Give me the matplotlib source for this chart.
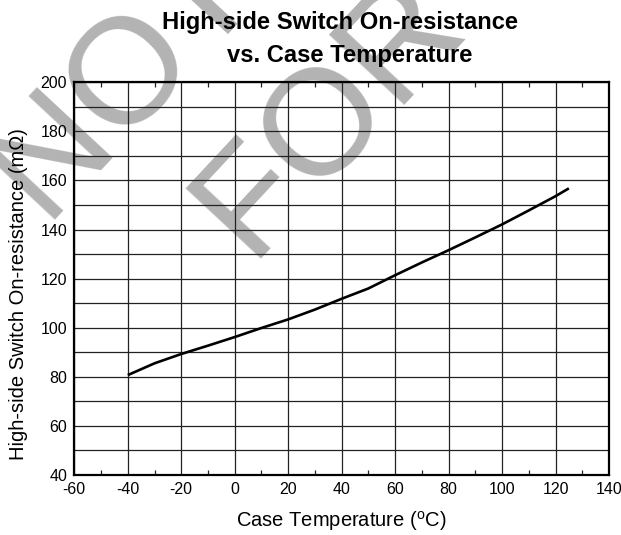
import matplotlib
matplotlib.use("Agg")
import matplotlib.pyplot as plt
from matplotlib.ticker import MultipleLocator

plt.rcParams['font.family'] = ['Liberation Sans', 'DejaVu Sans']
plt.rcParams['mathtext.fontset'] = 'custom'
plt.rcParams['mathtext.rm'] = 'Liberation Sans'
plt.rcParams['axes.unicode_minus'] = False

# Data
temperature_c = [-40, -30, -20, -10, 0, 10, 20, 30, 40, 50, 60, 70, 80, 90, 100, 110, 120, 125]
on_resistance_mohm = [80.7, 85.5, 89.3, 92.7, 96.2, 99.9, 103.4, 107.4, 111.8, 116.0, 121.4, 126.6, 131.6, 136.8, 142.1, 147.8, 153.6, 156.8]

x_ticks = [-60, -40, -20, 0, 20, 40, 60, 80, 100, 120, 140]
y_ticks = [40, 60, 80, 100, 120, 140, 160, 180, 200]

title_lines = ["High-side Switch On-resistance", "vs. Case Temperature"]
x_label = "Case Temperature ($^{\\mathrm{o}}$C)"
y_label = "High-side Switch On-resistance (m\u03A9)"
watermark_lines = ["NOT RECOMMENDED", "FOR NEW DESIGNS"]

W, H = 621, 535
fig = plt.figure(figsize=(W / 100, H / 100), dpi=100)
ax = fig.add_axes([74.3 / W, 1 - 475 / H, (609 - 74.3) / W, (475 - 82.3) / H])
ax.patch.set_alpha(0)

# watermark (behind everything)
wm_color = '#b3b3b3'
fig.text(47 / W, 1 - 228 / H, watermark_lines[0], fontsize=109, color=wm_color,
         rotation=47, rotation_mode='anchor', ha='left', va='baseline', zorder=-5)
fig.text(253.5 / W, 1 - 267 / H, watermark_lines[1], fontsize=109, color=wm_color,
         rotation=47, rotation_mode='anchor', ha='left', va='baseline', zorder=-5)

ax.plot(temperature_c, on_resistance_mohm, color='black', lw=1.9, zorder=3,
        solid_capstyle='butt')

ax.set_xlim(-60, 140)
ax.set_ylim(40, 200)
ax.set_xticks(x_ticks)
ax.set_yticks(y_ticks)
ax.xaxis.set_minor_locator(MultipleLocator(10))
ax.yaxis.set_minor_locator(MultipleLocator(10))
ax.grid(True, which='major', axis='both', color='#222222', lw=0.9)
ax.grid(True, which='minor', axis='y', color='#222222', lw=0.9)
ax.tick_params(which='major', direction='in', top=True, right=False, labelsize=11.5,
               length=0)
ax.tick_params(which='major', axis='x', pad=5.2)
ax.tick_params(which='major', axis='y', pad=5.2)
ax.tick_params(which='minor', axis='x', direction='in', top=True, length=3.5,
               width=0.9, color='#222222')
ax.tick_params(which='minor', axis='y', length=0)
for s in ax.spines.values():
    s.set_linewidth(1.6)
    s.set_color('black')

fig.text(341.7 / W, 1 - 526.7 / H, x_label, fontsize=14.5, ha='center', va='baseline')
fig.text(18.5 / W, 1 - 294 / H, y_label, fontsize=14.5, rotation=90,
         ha='center', va='center')

fig.text(340.5 / W, 1 - 29.3 / H, title_lines[0], fontsize=17.1, fontweight='bold',
         ha='center', va='baseline')
fig.text(350 / W, 1 - 61.7 / H, title_lines[1], fontsize=17.1, fontweight='bold',
         ha='center', va='baseline')

fig.savefig("out.png", dpi=100)
